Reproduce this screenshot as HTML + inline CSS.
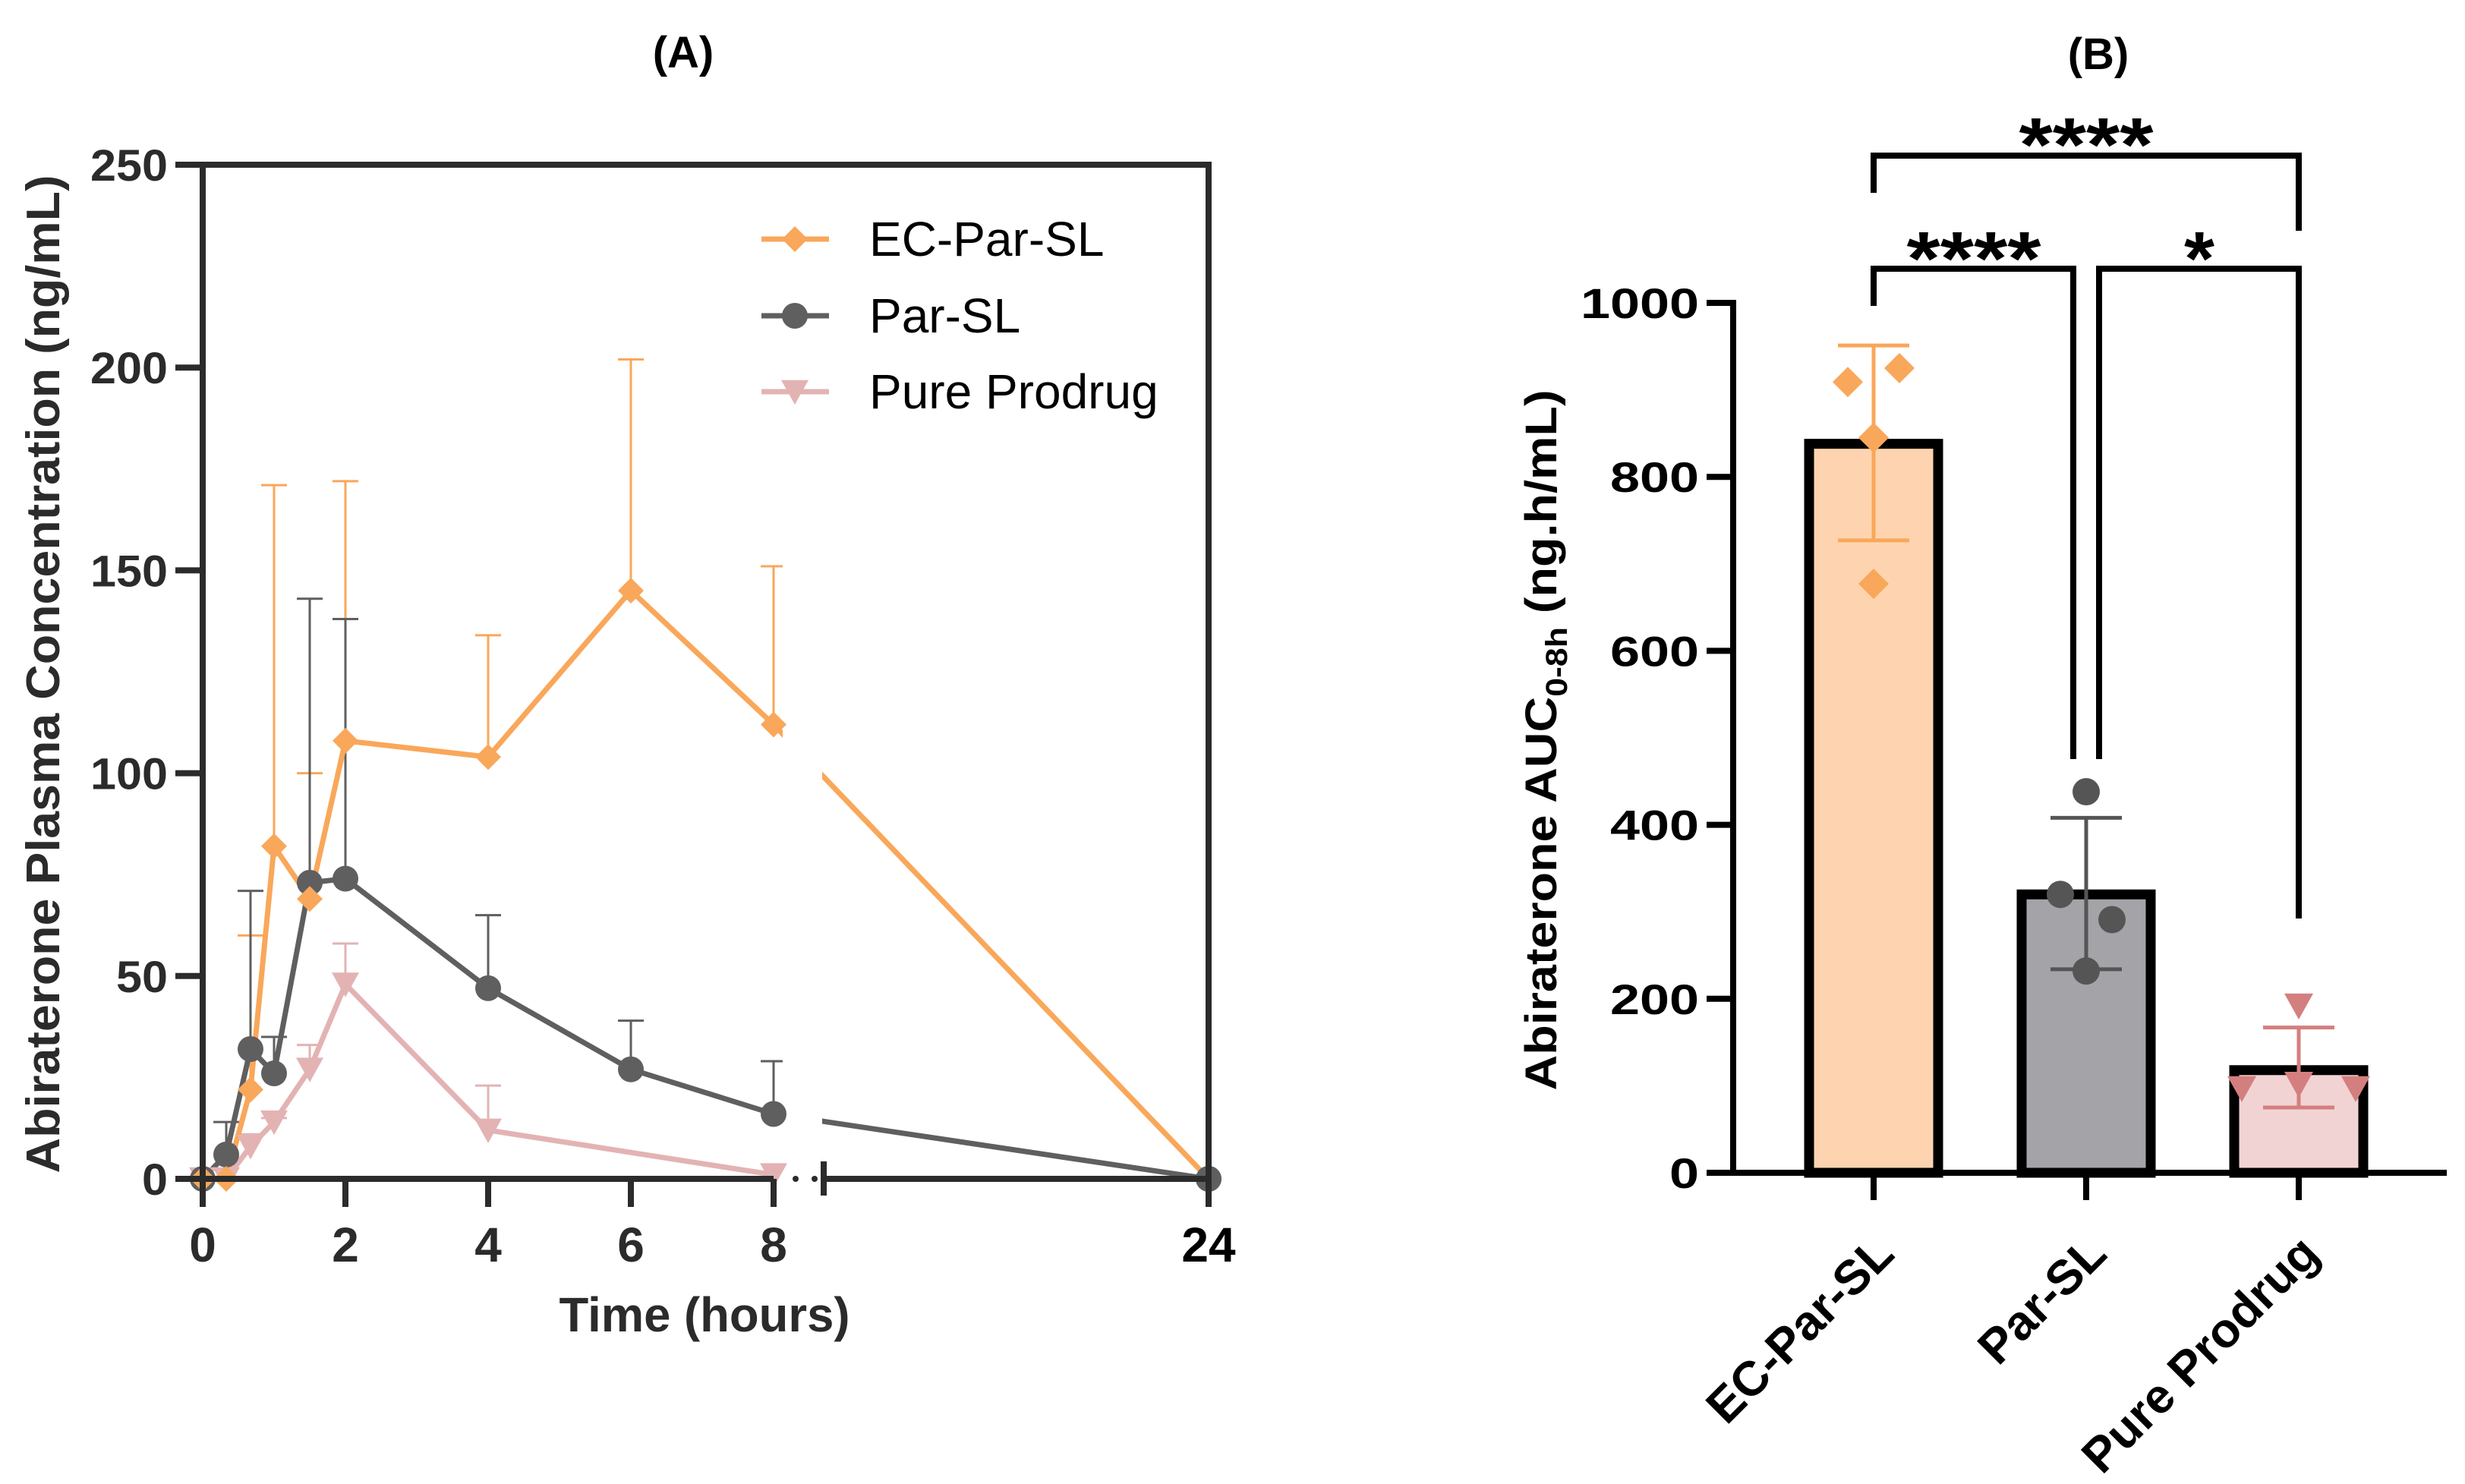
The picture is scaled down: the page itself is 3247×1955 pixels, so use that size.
<!DOCTYPE html>
<html><head><meta charset="utf-8"><style>
html,body{margin:0;padding:0;background:#fff;}
svg{display:block;font-family:"Liberation Sans",Arial,sans-serif;}
</style></head><body>
<svg id="fig" width="3247" height="1955" viewBox="0 0 3247 1955" xmlns="http://www.w3.org/2000/svg">
<rect x="0" y="0" width="3247" height="1955" fill="#fff"/>
<text x="900" y="89" font-size="58" font-weight="bold" text-anchor="middle" fill="#000">(A)</text>
<text x="2764" y="91" font-size="58" font-weight="bold" text-anchor="middle" fill="#000">(B)</text>
<g id="chartA"></g>
<g id="chartB"></g>
</svg>
<script>
// ---------- Chart A data ----------
const timesA = [0, 0.33, 0.67, 1, 1.5, 2, 4, 6, 8, 24];
const ecParSL = [0, 0, 22, 82, 69, 108, 104, 145, 112, 0];
const ecParSLsd = [0, 0, 60, 171, 100, 172, 134, 202, 151, 0];
const parSL = [0, 6, 32, 26, 73, 74, 47, 27, 16, 0];
const parSLsd = [0, 14, 71, 35, 143, 138, 65, 39, 29, 0];
const timesPure = [0, 0.33, 0.67, 1, 1.5, 2, 4, 8];
const pureProdrug = [0, 0, 8, 14, 27, 48, 12, 1];
const pureProdrugSd = [0, 0, 11, 15, 33, 58, 23, 1];
const yTicksA = [0, 50, 100, 150, 200, 250];
const xTicksA = [0, 2, 4, 6, 8, 24];
// ---------- Chart B data ----------
const groupsB = ["EC-Par-SL", "Par-SL", "Pure Prodrug"];
const meansB = [838, 320, 118];
const sdLowB = [727, 234, 75];
const sdHighB = [951, 408, 167];
const pointsEC = [909, 925, 845, 677];
const pointsPar = [438, 320, 291, 232];
const pointsPure = [192, 97, 102, 97];
const yTicksB = [0, 200, 400, 600, 800, 1000];

const NS = "http://www.w3.org/2000/svg";
function mk(parent, tag, attrs){const e=document.createElementNS(NS,tag);for(const k in attrs)e.setAttribute(k,attrs[k]);parent.appendChild(e);return e;}

// ----- Chart A -----
const A = document.getElementById('chartA');
const ax = t => t <= 8 ? 267 + t*94 : 1592;
const ay = v => 1553 - v*5.344;
const AX = "#2b2b2b";
const cOr = "#f9a75a", cGr = "#5f5f5f", cPk = "#e3b3b3";

function errA(ts, vals, sds, col, name){
  ts.forEach((t,i)=>{
    if (sds[i] <= vals[i] + 0.5) return;
    const x = ax(t);
    let l = mk(A,'line',{x1:x,y1:ay(vals[i]),x2:x,y2:ay(sds[i]),stroke:col,'stroke-width':3});
    
    
    let c = mk(A,'line',{x1:x-17,y1:ay(sds[i]),x2:x+17,y2:ay(sds[i]),stroke:col,'stroke-width':3});
    
    
  });
}
errA(timesA, ecParSL, ecParSLsd, cOr, 'ec-par-sl');
errA(timesA, parSL, parSLsd, cGr, 'par-sl');
errA(timesPure, pureProdrug, pureProdrugSd, cPk, 'pure-prodrug');

function lineA(ts, vals, col, name){
  const pts = ts.map((t,i)=>ax(t)+','+ay(vals[i])).join(' ');
  const p = mk(A,'polyline',{points:pts,fill:'none',stroke:col,'stroke-width':7,'stroke-linejoin':'round'});
  
  
}
lineA(timesPure, pureProdrug, cPk, 'pure-prodrug');
lineA(timesA, parSL, cGr, 'par-sl');
lineA(timesA, ecParSL, cOr, 'ec-par-sl');

// axis break mask
mk(A,'rect',{x:1031,y:220,width:52,height:1325,fill:'#fff'});

function diamond(g,x,y,r,col){return mk(g,'polygon',{points:`${x},${y-r} ${x+r},${y} ${x},${y+r} ${x-r},${y}`,fill:col});}
function tri(g,x,y,r,col){return mk(g,'polygon',{points:`${x-r},${y-r*0.85} ${x+r},${y-r*0.85} ${x},${y+r*0.95}`,fill:col});}

timesPure.forEach((t,i)=>{
  const m = tri(A, ax(t), ay(pureProdrug[i]), 18, cPk);
  
  
});
timesA.forEach((t,i)=>{
  const m = mk(A,'circle',{cx:ax(t),cy:ay(parSL[i]),r:17,fill:cGr});
  
  
});
timesA.forEach((t,i)=>{
  const m = diamond(A, ax(t), ay(ecParSL[i]), 17, cOr);
  
  
});
{const m=mk(A,'circle',{cx:ax(24),cy:ay(0),r:17,fill:cGr});

}

// axes A
mk(A,'path',{d:'M267,217 H1592 V1553',fill:'none',stroke:AX,'stroke-width':8});
mk(A,'line',{x1:267,y1:213,x2:267,y2:1557,stroke:AX,'stroke-width':8});
mk(A,'line',{x1:231,y1:1553,x2:1019,y2:1553,stroke:AX,'stroke-width':8});
mk(A,'line',{x1:1085,y1:1553,x2:1596,y2:1553,stroke:AX,'stroke-width':8});
mk(A,'line',{x1:1085,y1:1530,x2:1085,y2:1575,stroke:AX,'stroke-width':8});
mk(A,'circle',{cx:1048,cy:1553,r:4,fill:AX});
mk(A,'circle',{cx:1073,cy:1553,r:4,fill:AX});
yTicksA.forEach(v=>{
  mk(A,'line',{x1:231,y1:ay(v),x2:267,y2:ay(v),stroke:AX,'stroke-width':8});
  const s=String(v);
  const t = mk(A,'text',{x:221,y:ay(v)+21,'font-size':58,'font-weight':'bold','text-anchor':'end',fill:AX,textLength:s.length*34,lengthAdjust:'spacingAndGlyphs'});
  t.textContent = s;
  
  
});
xTicksA.forEach(v=>{
  mk(A,'line',{x1:ax(v),y1:1553,x2:ax(v),y2:1590,stroke:AX,'stroke-width':8});
  const t = mk(A,'text',{x:ax(v),y:1662,'font-size':64,'font-weight':'bold','text-anchor':'middle',fill:v===24?'#000':AX});
  t.textContent = String(v);
  
  
});
{const t=mk(A,'text',{x:928,y:1754,'font-size':64,'font-weight':'bold','text-anchor':'middle',fill:AX,textLength:383,lengthAdjust:'spacingAndGlyphs'});
t.textContent='Time (hours)';

}
{const t=mk(A,'text',{x:0,y:0,transform:'translate(78,888) rotate(-90)','font-size':62,'font-weight':'bold','text-anchor':'middle',fill:AX,textLength:1315,lengthAdjust:'spacingAndGlyphs'});
t.textContent='Abiraterone Plasma Concentration (ng/mL)';

}
// legend
const legNames=['EC-Par-SL','Par-SL','Pure Prodrug'], legY=[315,416,516], legCol=[cOr,cGr,cPk];
legNames.forEach((n,i)=>{
  const g = mk(A,'g',{});
  
  
  mk(g,'line',{x1:1003,y1:legY[i],x2:1092,y2:legY[i],stroke:legCol[i],'stroke-width':7});
  if(i===0) diamond(g,1047,legY[i],17,cOr);
  if(i===1) mk(g,'circle',{cx:1047,cy:legY[i],r:17,fill:cGr});
  if(i===2) tri(g,1047,legY[i],18,cPk);
  const t=mk(g,'text',{x:1145,y:legY[i]+22,'font-size':64,fill:'#000'});
  t.textContent=n;
});

// ----- Chart B -----
const B = document.getElementById('chartB');
const bx = i => 2468 + i*280;
const by = v => 1545 - v*1.146;
const fills = ['#fdd4af','#a4a4a8','#f2d3d3'];
const pcol = ['#f9a75a','#555555','#d47f7f'];
meansB.forEach((m,i)=>{
  const r = mk(B,'rect',{x:bx(i)-85,y:by(m),width:170,height:by(0)-by(m),fill:fills[i],stroke:'#000','stroke-width':13});
  
  
});
mk(B,'line',{x1:2283,y1:395,x2:2283,y2:1549,stroke:'#000','stroke-width':8});
mk(B,'line',{x1:2248,y1:1545,x2:3223,y2:1545,stroke:'#000','stroke-width':8});
yTicksB.forEach(v=>{
  mk(B,'line',{x1:2248,y1:by(v),x2:2283,y2:by(v),stroke:'#000','stroke-width':8});
  const s=String(v);
  const t=mk(B,'text',{x:2238,y:by(v)+20,'font-size':56,'font-weight':'bold','text-anchor':'end',fill:'#000',textLength:s.length*39,lengthAdjust:'spacingAndGlyphs'});
  t.textContent=s;
  
  
});
groupsB.forEach((g,i)=>{
  mk(B,'line',{x1:bx(i),y1:1545,x2:bx(i),y2:1581,stroke:'#000','stroke-width':8});
  const t=mk(B,'text',{x:0,y:0,transform:`translate(${bx(i)+30},${1655}) rotate(-45)`,'font-size':64,'font-weight':'bold','text-anchor':'end',fill:'#000'});
  t.textContent=g;
  
  
});
{const t=mk(B,'text',{x:0,y:0,transform:'translate(2050,975) rotate(-90)','font-size':58,'font-weight':'bold','text-anchor':'middle',fill:'#000',textLength:923,lengthAdjust:'spacingAndGlyphs'});
t.innerHTML='Abiraterone AUC<tspan font-size="40" dy="14">0-8h</tspan><tspan dy="-14"> (ng.h/mL)</tspan>';

}
meansB.forEach((m,i)=>{
  const x=bx(i);
  const g=mk(B,'g',{stroke:pcol[i],'stroke-width':5});
  
  
  mk(g,'line',{x1:x,y1:by(sdLowB[i]),x2:x,y2:by(sdHighB[i])});
  mk(g,'line',{x1:x-47,y1:by(sdLowB[i]),x2:x+47,y2:by(sdLowB[i])});
  mk(g,'line',{x1:x-47,y1:by(sdHighB[i]),x2:x+47,y2:by(sdHighB[i])});
});
const offs=[-34,34,0,0], offsPar=[0,-34,34,0], offsPure=[0,-75,0,75];
pointsEC.forEach((v,j)=>{const m=diamond(B,bx(0)+offs[j],by(v),20,pcol[0]);

});
pointsPar.forEach((v,j)=>{const m=mk(B,'circle',{cx:bx(1)+offsPar[j],cy:by(v),r:18,fill:pcol[1]});

});
pointsPure.forEach((v,j)=>{const m=tri(B,bx(2)+offsPure[j],by(v),19,pcol[2]);

});
function bracket(x1,x2,y,b1,b2,label,lx,ly,len){
  const g=mk(B,'g',{});
  
  
  mk(g,'path',{d:`M${x1},${b1} V${y} H${x2} V${b2}`,fill:'none',stroke:'#000','stroke-width':8});
  const t=mk(g,'text',{x:lx,y:ly,'font-size':100,'font-weight':'bold','text-anchor':'middle',fill:'#000',textLength:len,lengthAdjust:'spacingAndGlyphs'});
  t.textContent=label;
}
bracket(2468,3028,205,254,304,'****',2748,225,177);
bracket(2468,2731,354,403,1000,'****',2600,375,177);
bracket(2765,3028,354,1000,1210,'*',2897,375,40);
</script>
</body></html>
